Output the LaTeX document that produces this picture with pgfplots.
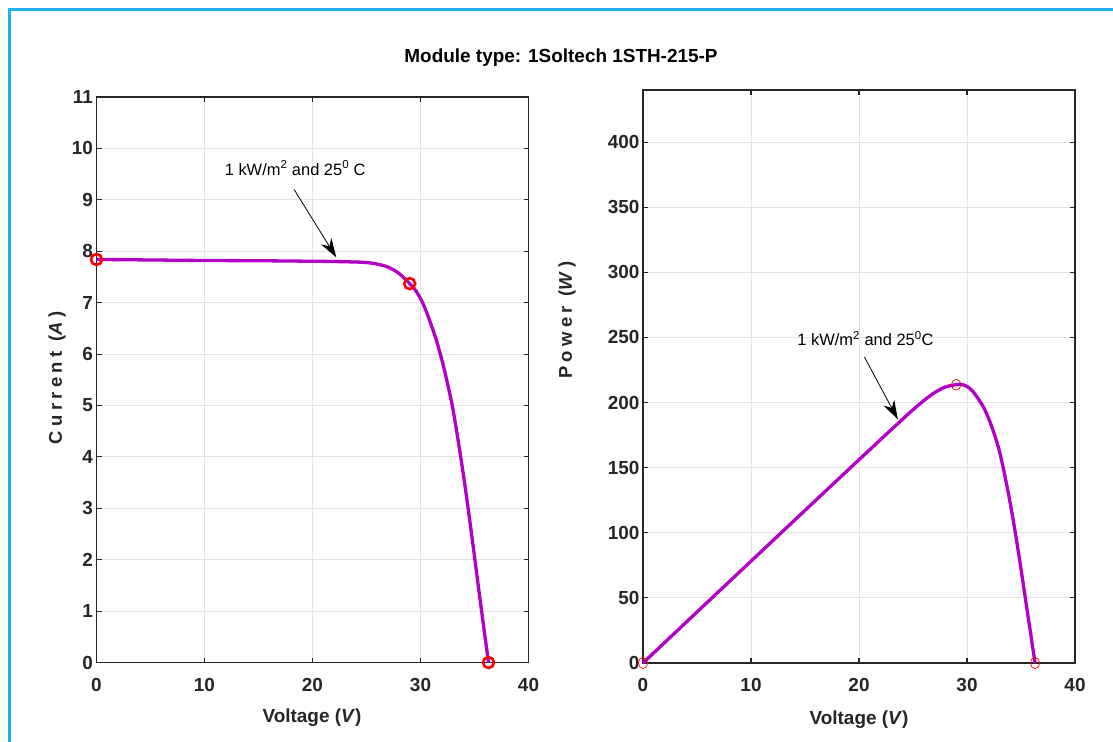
\documentclass[border=0pt]{standalone}
\usepackage{fontspec}
\setmainfont{Liberation Sans}
\usepackage{pgfplots}
\pgfplotsset{compat=1.18}
\usetikzlibrary{arrows.meta}
\definecolor{ink}{HTML}{262626}
\definecolor{gridc}{HTML}{E3E3E3}
\definecolor{curve}{HTML}{B200C6}
\definecolor{frame}{HTML}{1CB0EC}

\pgfplotstableread{
V     I
0     7.84
5     7.83
10    7.82
15    7.815
20    7.805
22    7.80
24    7.79
25    7.78
26    7.75
27    7.69
28    7.57
29    7.37
29.5  7.25
30    7.08
30.5  6.85
31    6.56
31.5  6.25
32    5.87
32.5  5.43
33    4.93
33.5  4.30
34    3.61
34.5  2.86
35    2.06
35.5  1.25
36    0.46
36.3  0
}\ivdata

\pgfplotstableread{
V     P
0     0
5     39.15
10    78.2
15    117.2
20    156.1
22    171.6
24    186.96
25    194.5
26    201.5
27    207.63
28    211.96
29    213.73
29.5  213.88
30    212.4
30.5  208.93
31    203.36
31.5  196.88
32    187.84
32.5  176.48
33    162.69
33.5  144.05
34    122.74
34.5  98.67
35    72.1
35.5  44.38
36    16.56
36.3  0
}\pvdata

\pgfplotsset{
  mat/.style={
    scale only axis, width=432bp,
    xmin=0, xmax=40, xtick={0,10,...,40},
    grid=major, major grid style={gridc, line width=0.9bp},
    axis line style={ink, line width=1.3bp},
    tick style={ink, line width=1.1bp}, tick align=inside, major tick length=5bp,
    xtick pos=both, ytick pos=both, xticklabel pos=bottom, yticklabel pos=left,
    /pgf/number format/assume math mode=true,
    tick label style={font=\bfseries\fontsize{19}{19}\selectfont, text=ink},
    xticklabel style={yshift=-12bp},
    clip=false,
  },
}

\begin{document}
\begin{tikzpicture}
\fill[white] (0bp,0bp) rectangle (1113bp,-742bp);
\useasboundingbox (0bp,0bp) rectangle (1113bp,-742bp);
\draw[frame, line width=3.5bp] (9.5bp,-742bp) -- (9.5bp,-9.5bp) -- (1113bp,-9.5bp);

\node[font=\bfseries\fontsize{19}{19}\selectfont, text=black] at (561bp,-58bp) {Module type: 1Soltech 1STH-215-P};

% I-V
\begin{axis}[mat, at={(96.5bp,-662.5bp)}, anchor=south west, height=565.5bp,
    ymin=0, ymax=11, ytick={0,1,...,11}]
  \addplot[curve, line width=3.3bp, smooth, tension=0.5] table[x=V, y=I] {\ivdata};
  \addplot[only marks, mark=o, red, mark size=5.5bp, line width=2.6bp] coordinates {(0,7.84) (29,7.37) (36.3,0)};
  \node[font=\fontsize{16.5}{16.5}\selectfont, text=black] at (axis cs:18.4,9.62) {1 kW/m\textsuperscript{2} and 25\textsuperscript{0} C};
  \draw[black, line width=0.8bp, -{Stealth[length=19bp, width=12bp, inset=6bp]}] (axis cs:18.3,9.2) -- (axis cs:22.2,7.88);
\end{axis}

% P-V
\begin{axis}[mat, at={(643bp,-663bp)}, anchor=south west, height=573bp,
    ymin=0, ymax=440, ytick={0,50,...,400}]
  \addplot[curve, line width=3.3bp, smooth, tension=0.5] table[x=V, y=P] {\pvdata};
  \addplot[only marks, mark=o, red, mark size=5.5bp, line width=0.7bp, mark options={xscale=0.85}] coordinates {(0,0) (29,213.7) (36.3,0)};
  \node[font=\fontsize{16.5}{16.5}\selectfont, text=black] at (axis cs:20.6,249) {1 kW/m\textsuperscript{2} and 25\textsuperscript{0}C};
  \draw[black, line width=0.8bp, -{Stealth[length=19bp, width=12bp, inset=6bp]}] (axis cs:20.5,235) -- (axis cs:23.6,187);
\end{axis}

% axis titles
\node[font=\bfseries\fontsize{18.5}{18.5}\selectfont\addfontfeature{LetterSpace=24}, text=ink, rotate=90] at (57bp,-378bp) {Current (\textit{A})};
\node[font=\bfseries\fontsize{18.5}{18.5}\selectfont\addfontfeature{LetterSpace=24}, text=ink, rotate=90] at (567bp,-320bp) {Power (\textit{W})};
\node[font=\bfseries\fontsize{19}{19}\selectfont, text=ink] at (312bp,-718bp) {Voltage (\textit{V})};
\node[font=\bfseries\fontsize{19}{19}\selectfont, text=ink] at (859bp,-720bp) {Voltage (\textit{V})};
\end{tikzpicture}
\end{document}
